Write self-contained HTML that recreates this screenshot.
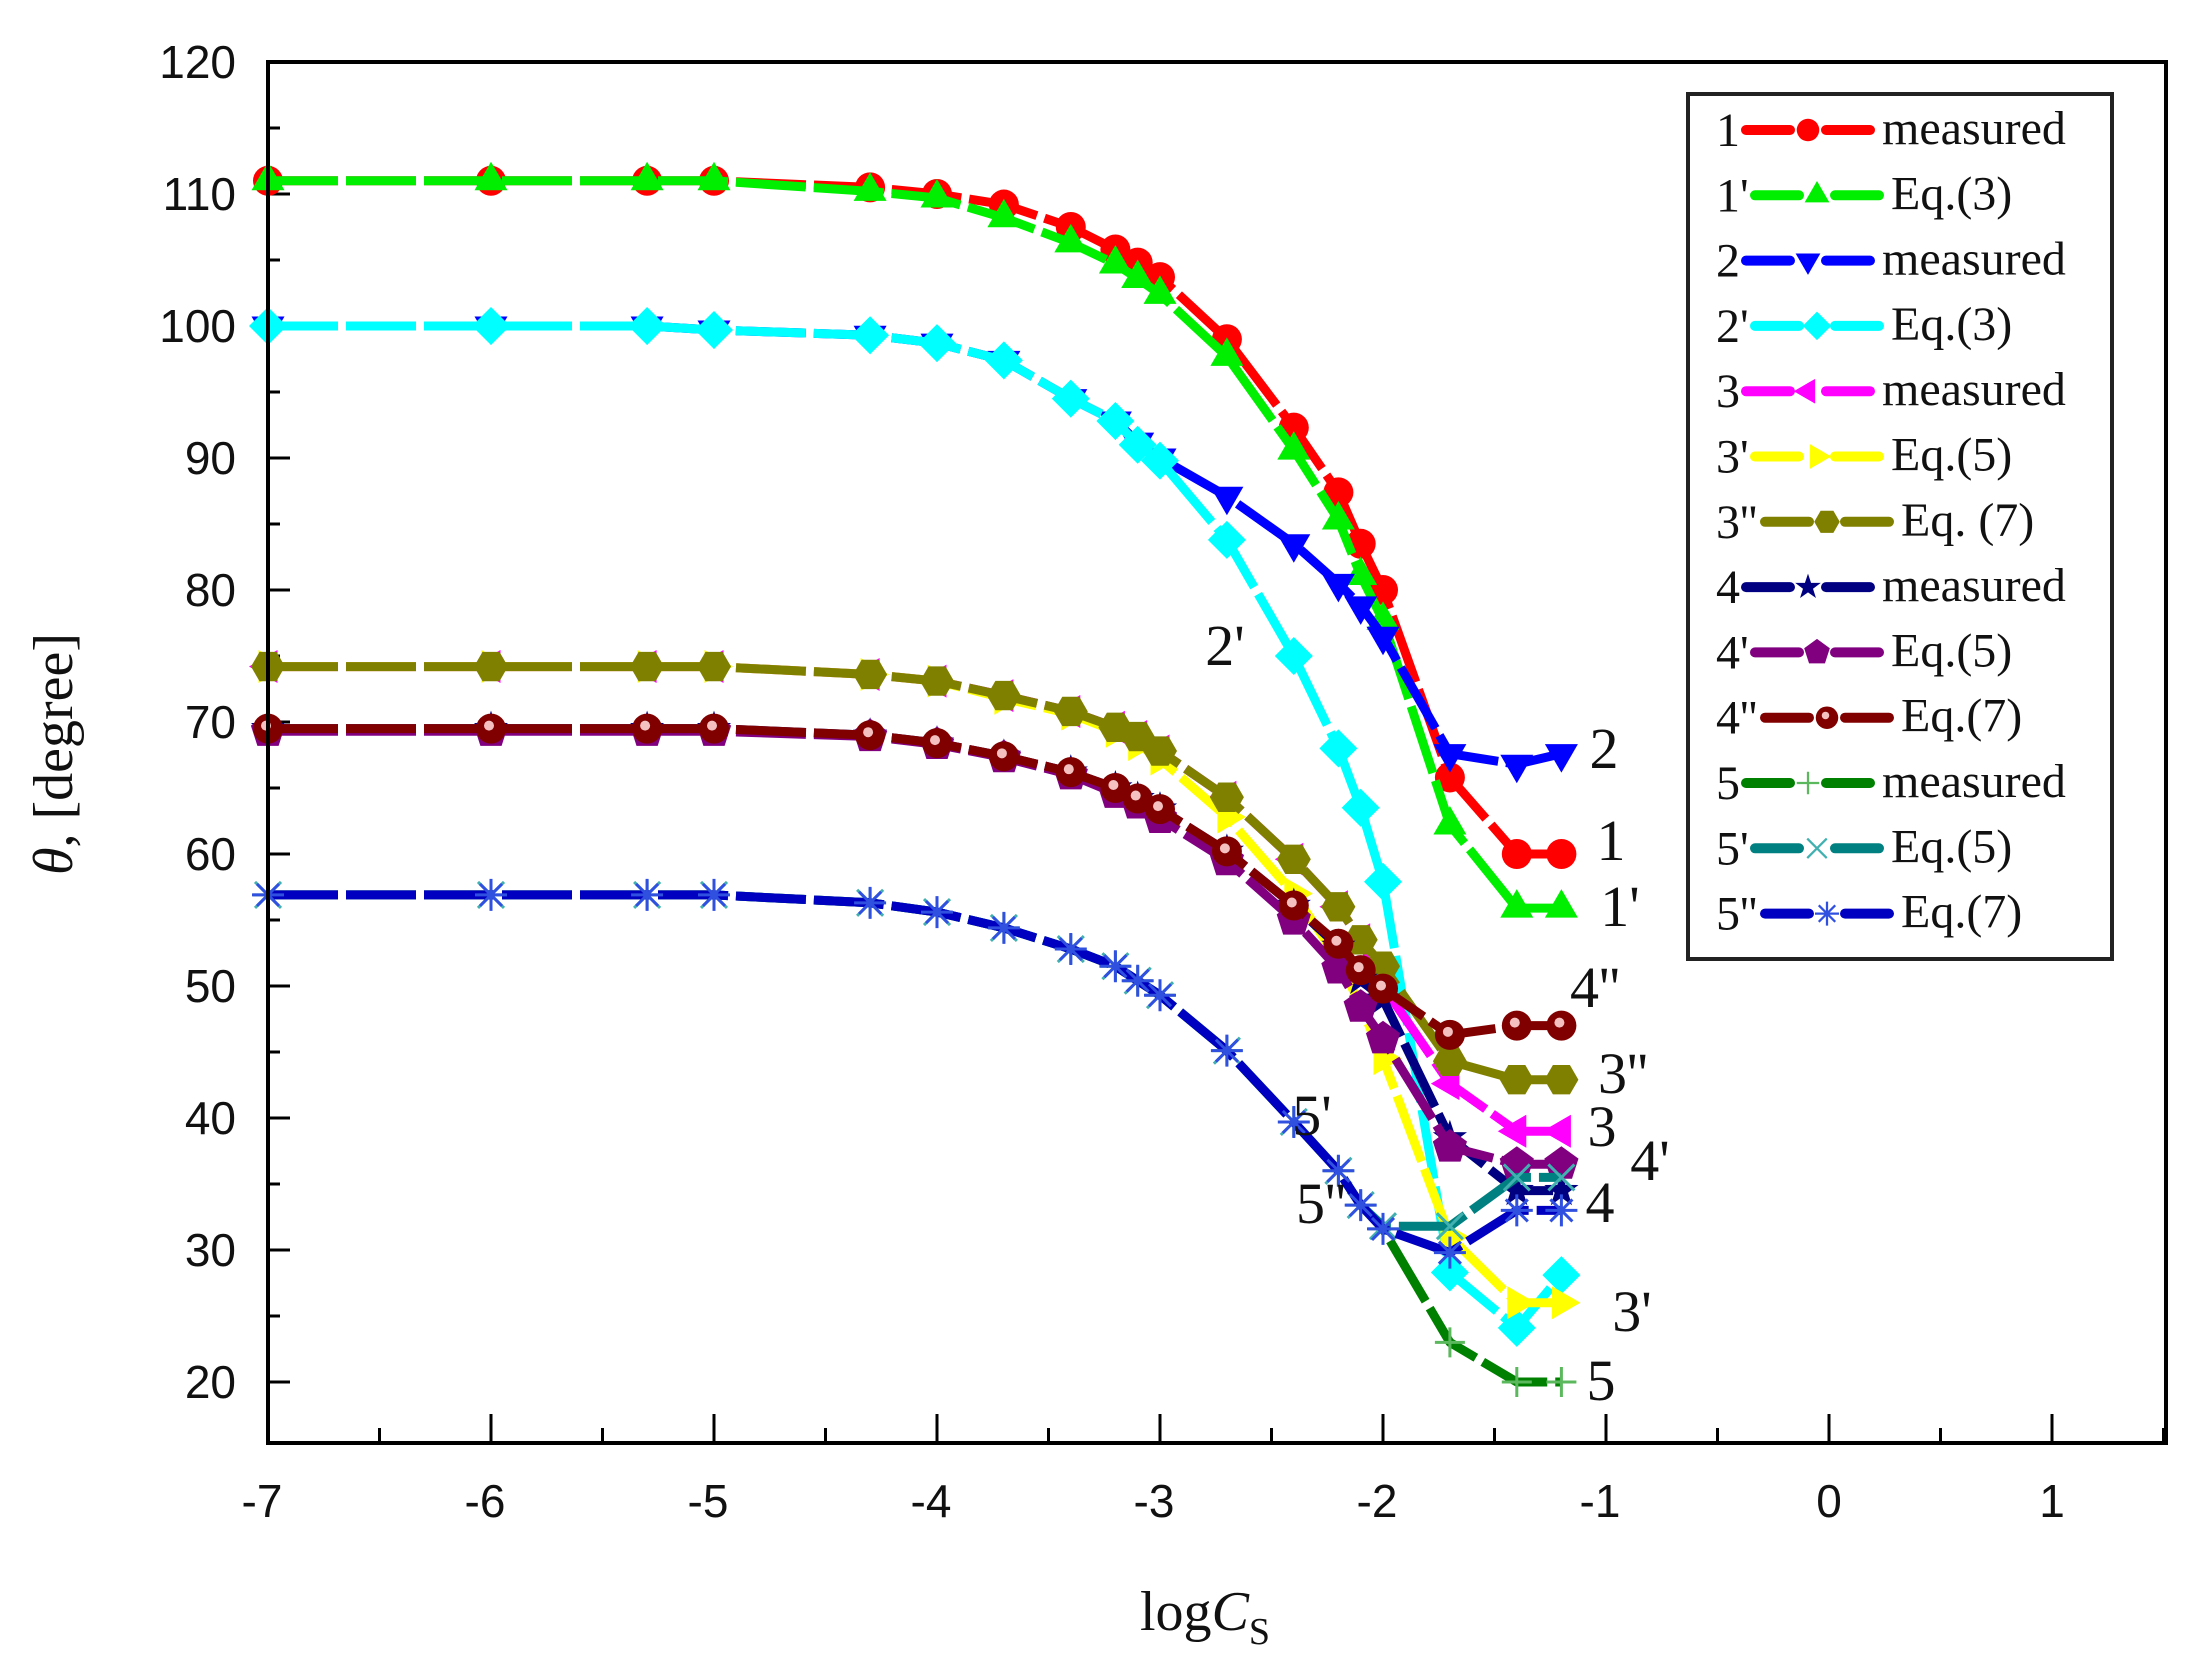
<!DOCTYPE html>
<html><head><meta charset="utf-8">
<style>
html,body{margin:0;padding:0;background:#fff;}
svg{display:block;}
text{font-family:"Liberation Serif",serif;fill:#111;}
.tk text{font-family:"Liberation Sans",sans-serif;font-size:46px;}
</style></head>
<body>
<svg id="s" width="2188" height="1678" viewBox="0 0 2188 1678" xmlns="http://www.w3.org/2000/svg">
<rect width="2188" height="1678" fill="#fff"/>
<g id="ticks" stroke="#000" stroke-width="3"></g>
<g id="data"></g>
<rect x="268" y="62" width="1898" height="1381" fill="none" stroke="#000" stroke-width="4"/>
<g class="tk" text-anchor="end">
<text x="236" y="78">120</text>
<text x="236" y="210">110</text>
<text x="236" y="342">100</text>
<text x="236" y="474">90</text>
<text x="236" y="606">80</text>
<text x="236" y="738">70</text>
<text x="236" y="870">60</text>
<text x="236" y="1002">50</text>
<text x="236" y="1134">40</text>
<text x="236" y="1266">30</text>
<text x="236" y="1398">20</text>
</g>
<g class="tk" text-anchor="middle">
<text x="262" y="1517">-7</text>
<text x="485" y="1517">-6</text>
<text x="708" y="1517">-5</text>
<text x="931" y="1517">-4</text>
<text x="1154" y="1517">-3</text>
<text x="1377" y="1517">-2</text>
<text x="1600" y="1517">-1</text>
<text x="1829" y="1517">0</text>
<text x="2052" y="1517">1</text>
</g>
<text x="1140" y="1630" font-size="56">log<tspan font-style="italic">C</tspan><tspan font-size="38" dy="14">S</tspan></text>
<text transform="translate(72,754) rotate(-90)" text-anchor="middle" font-size="56"><tspan font-style="italic">θ</tspan>, [degree]</text>
<g font-size="58" text-anchor="middle">
<text x="1604" y="768">2</text>
<text x="1611" y="860">1</text>
<text x="1620" y="926">1'</text>
<text x="1595" y="1007">4''</text>
<text x="1623" y="1093">3''</text>
<text x="1602" y="1146">3</text>
<text x="1650" y="1180">4'</text>
<text x="1600" y="1222">4</text>
<text x="1632" y="1331">3'</text>
<text x="1601" y="1400">5</text>
<text x="1225" y="665">2'</text>
<text x="1312" y="1135">5'</text>
<text x="1321" y="1223">5''</text>
</g>
<rect x="1688" y="94" width="424" height="865" fill="#fff" stroke="#222" stroke-width="4"/>
<g id="leg"></g>
</svg>
<script>
const NS="http://www.w3.org/2000/svg";
const X=v=>268+(v+7)*223, Y=v=>62+(120-v)*13.2;
const tg=document.getElementById('ticks');
function ln(g,x1,y1,x2,y2){const l=document.createElementNS(NS,'line');l.setAttribute('x1',x1);l.setAttribute('y1',y1);l.setAttribute('x2',x2);l.setAttribute('y2',y2);g.appendChild(l);}
for(let v=-7;v<=1.51;v+=0.5){const maj=Math.abs(v-Math.round(v))<1e-6;ln(tg,X(v),1443,X(v),1443-(maj?29:15));}
for(let v=20;v<=120;v+=5){const maj=v%10==0;ln(tg,268,Y(v),268+(maj?22:12),Y(v));}
const xs=[-7,-6,-5.3,-5,-4.3,-4,-3.7,-3.4,-3.2,-3.1,-3,-2.7,-2.4,-2.2,-2.1,-2,-1.7,-1.4,-1.2];
const S=[
["1","measured","#ff0000","circ",[111,111,111,111,110.5,110,109.2,107.5,105.8,104.8,103.7,99,92.3,87.4,83.5,80,65.8,60,60]],
["1'","Eq.(3)","#00ee00","tup",[111,111,111,111,110.2,109.7,108.2,106.3,104.7,103.6,102.4,97.7,90.6,85.3,81.1,77.7,62.2,55.9,55.9]],
["2","measured","#0000ff","tdn",[100,100,100,99.7,99.3,98.7,97.4,94.5,92.8,91.2,90,87.1,83.5,80.5,78.8,76.5,67.6,66.8,67.6]],
["2'","Eq.(3)","#00ffff","dia",[100,100,100,99.7,99.3,98.7,97.4,94.5,92.8,91,89.8,83.8,75,68,63.5,57.9,28.3,24.1,28.1]],
["3","measured","#ff00ff","tl",[74.2,74.2,74.2,74.2,73.6,73.1,72,70.8,69.6,68.9,67.8,64.3,59.6,56,53.5,50,42.6,39,39]],
["3'","Eq.(5)","#ffff00","tr",[74.2,74.2,74.2,74.2,73.6,73.1,71.8,70.6,69.3,68.3,67.2,62.8,57,52,48.5,44.5,31,26,26]],
["3''","Eq. (7)","#808000","hex",[74.2,74.2,74.2,74.2,73.6,73.1,72,70.8,69.6,68.9,67.8,64.3,59.6,56,53.5,51.5,44.3,42.9,42.9]],
["4","measured","#000080","star",[69.5,69.5,69.5,69.5,69,68.4,67.4,66.2,65,64.2,63.4,60.2,56.1,53,50.5,49,38.5,34.5,34.5]],
["4'","Eq.(5)","#800080","pent",[69.3,69.3,69.3,69.3,68.9,68.3,67.3,66,64.6,63.8,62.7,59.5,55,51.3,48.4,46,37.8,36.5,36.5]],
["4''","Eq.(7)","#800000","circ2",[69.5,69.5,69.5,69.5,69,68.4,67.4,66.2,65,64.2,63.4,60.2,56.1,53.2,51.2,49.8,46.3,47,47]],
["5","measured","#008000","plus",[56.9,56.9,56.9,56.9,56.3,55.6,54.4,52.8,51.5,50.4,49.3,45.1,39.7,36,33.4,31.6,23,20,20]],
["5'","Eq.(5)","#008080","x",[56.9,56.9,56.9,56.9,56.3,55.6,54.4,52.8,51.5,50.4,49.3,45.1,39.7,36,33.4,31.8,31.8,35.5,35.5]],
["5''","Eq.(7)","#0000c0","ast",[56.9,56.9,56.9,56.9,56.3,55.6,54.4,52.8,51.5,50.4,49.3,45.1,39.7,36,33.4,31.6,29.8,33,33]]
];
function poly(n,r,rot){let p=[];for(let i=0;i<n;i++){const a=rot+i*2*Math.PI/n;p.push((r*Math.cos(a)).toFixed(1)+','+(r*Math.sin(a)).toFixed(1));}return p.join(' ');}
function marker(type,c,x,y,s){
 const g=document.createElementNS(NS,'g');g.setAttribute('transform',`translate(${x},${y}) scale(${s})`);
 let h='';
 switch(type){
 case'circ':h=`<circle r="15" fill="${c}"/>`;break;
 case'circ2':h=`<circle r="15" fill="${c}"/><circle cx="-2" cy="-3" r="5" fill="#f4c0c0"/>`;break;
 case'tup':h=`<polygon points="${poly(3,19,-Math.PI/2)}" fill="${c}"/>`;break;
 case'tdn':h=`<polygon points="${poly(3,19,Math.PI/2)}" fill="${c}"/>`;break;
 case'tl':h=`<polygon points="${poly(3,19,Math.PI)}" fill="${c}"/>`;break;
 case'tr':h=`<polygon points="${poly(3,19,0)}" fill="${c}"/>`;break;
 case'dia':h=`<polygon points="${poly(4,19,0)}" fill="${c}"/>`;break;
 case'hex':h=`<polygon points="${poly(6,17,0)}" fill="${c}"/>`;break;
 case'pent':h=`<polygon points="${poly(5,18,-Math.PI/2)}" fill="${c}"/>`;break;
 case'star':{let p=[];for(let i=0;i<10;i++){const r=i%2?7:18,a=-Math.PI/2+i*Math.PI/5;p.push((r*Math.cos(a)).toFixed(1)+','+(r*Math.sin(a)).toFixed(1));}h=`<polygon points="${p.join(' ')}" fill="${c}"/>`;break;}
 case'plus':h=`<path d="M-15 0H15M0 -15V15" stroke="#5cb85c" stroke-width="3"/>`;break;
 case'x':h=`<path d="M-13 -13L13 13M-13 13L13 -13" stroke="#40b0b0" stroke-width="3"/>`;break;
 case'ast':h=`<path d="M-16 0H16M0 -16V16M-11 -11L11 11M-11 11L11 -11" stroke="#3050e0" stroke-width="3"/>`;break;
 }
 g.innerHTML=h;return g;
}
const dg=document.getElementById('data');
S.forEach(s=>{
 const pts=xs.map((x,i)=>X(x).toFixed(1)+','+Y(s[4][i]).toFixed(1)).join(' ');
 const pl=document.createElementNS(NS,'polyline');pl.setAttribute('points',pts);pl.setAttribute('fill','none');
 pl.setAttribute('stroke',s[2]);pl.setAttribute('stroke-width','9');pl.setAttribute('stroke-dasharray','70 8');pl.setAttribute('stroke-linejoin','round');
 dg.appendChild(pl);
 xs.forEach((x,i)=>dg.appendChild(marker(s[3],s[2],X(x),Y(s[4][i]),1)));
});
const lg=document.getElementById('leg');
S.forEach((s,i)=>{
 const y=130+i*65.3;
 const t=document.createElementNS(NS,'text');t.setAttribute('x',1716);t.setAttribute('y',y+16);t.setAttribute('font-size','48');t.textContent=s[0];lg.appendChild(t);
 const x0=s[0].length>1?(s[0].length>2?1765:1755):1746;
 const l1=document.createElementNS(NS,'path');l1.setAttribute('d',`M${x0} ${y}h44M${x0+80} ${y}h44`);l1.setAttribute('stroke',s[2]);l1.setAttribute('stroke-width','10');l1.setAttribute('stroke-linecap','round');lg.appendChild(l1);
 lg.appendChild(marker(s[3],s[2],x0+62,y,0.75));
 const t2=document.createElementNS(NS,'text');t2.setAttribute('x',x0+136);t2.setAttribute('y',y+14);t2.setAttribute('font-size','48');t2.textContent=s[1];lg.appendChild(t2);
});
</script>
</body></html>
